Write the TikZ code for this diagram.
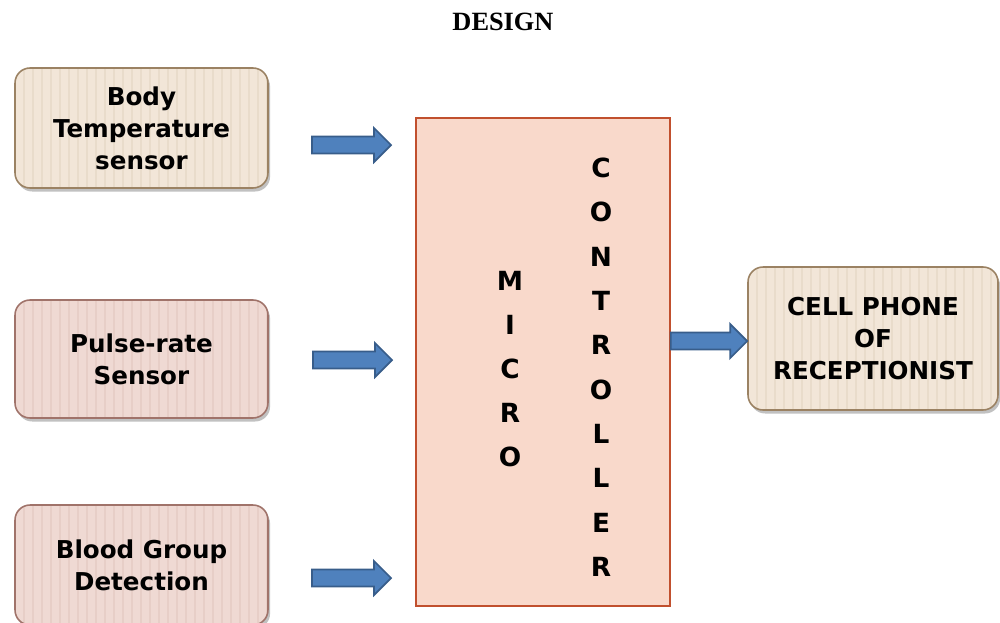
\documentclass[tikz,border=0pt]{standalone}
\usepackage{fontspec}
\setmainfont{Liberation Serif}
\newfontfamily\boxfont{DejaVu Sans}
\usetikzlibrary{calc,shadows}

\definecolor{sandfill}{HTML}{F2E6D8}
\definecolor{sandline}{HTML}{9B8263}
\definecolor{sandstripe}{HTML}{E9DCCB}
\definecolor{rosefill}{HTML}{EFD9D3}
\definecolor{roseline}{HTML}{A0736A}
\definecolor{rosestripe}{HTML}{E7CEC7}
\definecolor{mcufill}{HTML}{F9D9CB}
\definecolor{mculine}{HTML}{C1502E}
\definecolor{arrfill}{HTML}{4F81BD}
\definecolor{arrline}{HTML}{385D8A}

\tikzset{
  stripes/.style={path picture={
    \foreach \k in {0,...,30}{
      \draw[#1, line width=0.7pt]
        ([xshift=\k*0.18cm]path picture bounding box.south west) --
        ([xshift=\k*0.18cm]path picture bounding box.north west);
    }}},
  sensor/.style={rounded corners=0.3cm, line width=0.9pt, align=center,
    font=\boxfont\bfseries\fontsize{14}{18.2}\selectfont,
    minimum width=5.06cm, inner sep=0pt,
    drop shadow={shadow xshift=1.2pt, shadow yshift=-2pt, opacity=0.35, fill=black!70}},
  sandbox/.style={sensor, fill=sandfill, draw=sandline, stripes=sandstripe},
  rosebox/.style={sensor, fill=rosefill, draw=roseline, stripes=rosestripe},
  mcubox/.style={draw=mculine, fill=mcufill, line width=0.9pt,
    minimum width=5.08cm, minimum height=9.76cm, inner sep=0pt},
  letter/.style={font=\boxfont\bfseries\fontsize{15}{17}\selectfont, inner sep=0pt},
  blockarr/.style={fill=arrfill, draw=arrline, line width=1pt, line join=miter},
  title/.style={font=\bfseries\fontsize{15}{18}\selectfont, inner sep=0pt}
}

% horizontal block arrow from #1 (tail) to #2 (tip)
\newcommand\blockarrow[2]{%
  \draw[blockarr] ($(#1)+(0,-8.5)$) -- ($(#2)+(-17,-8.5)$) -- ($(#2)+(-17,-17)$)
    -- (#2) -- ($(#2)+(-17,17)$) -- ($(#2)+(-17,8.5)$) -- ($(#1)+(0,8.5)$) -- cycle;}

\begin{document}
\begin{tikzpicture}[x=0.02cm, y=-0.02cm]
  \useasboundingbox (0,0) rectangle (1000,622);
  \clip (0,0) rectangle (1000,622);

  \node[title] (title) at (503,22) {DESIGN};

  % sensor blocks
  \node[sandbox, minimum height=2.4cm] (temp) at (141.5,128)
    {Body\\Temperature\\sensor};
  \node[rosebox, minimum height=2.36cm] (pulse) at (141.5,359)
    {Pulse-rate\\Sensor};
  \node[rosebox, minimum height=2.4cm] (blood) at (141.5,565)
    {Blood Group\\Detection};

  % micro controller
  \node[mcubox] (mcu) at (543,362) {};
  \foreach \ch [count=\i from 0] in {M,I,C,R,O}
    \node[letter] (m\i) at (510,281+44*\i) {\ch};
  \foreach \ch [count=\i from 0] in {C,O,N,T,R,O,L,L,E,R}
    \node[letter] (c\i) at (601,168+44.3*\i) {\ch};

  % output
  \node[sandbox, minimum width=5.0cm, minimum height=2.86cm] (phone) at (873,338.5)
    {CELL PHONE\\OF\\RECEPTIONIST};

  % block arrows
  \coordinate (t1) at (312,145);  \coordinate (h1) at (391,145);
  \coordinate (t2) at (313,360);  \coordinate (h2) at (392,360);
  \coordinate (t3) at (312,578);  \coordinate (h3) at (391,578);
  \coordinate (t4) at (mcu.east |- 0,341); \coordinate (h4) at (phone.west |- 0,341);
  \blockarrow{t1}{h1}
  \blockarrow{t2}{h2}
  \blockarrow{t3}{h3}
  \blockarrow{t4}{h4}
\end{tikzpicture}
\end{document}
